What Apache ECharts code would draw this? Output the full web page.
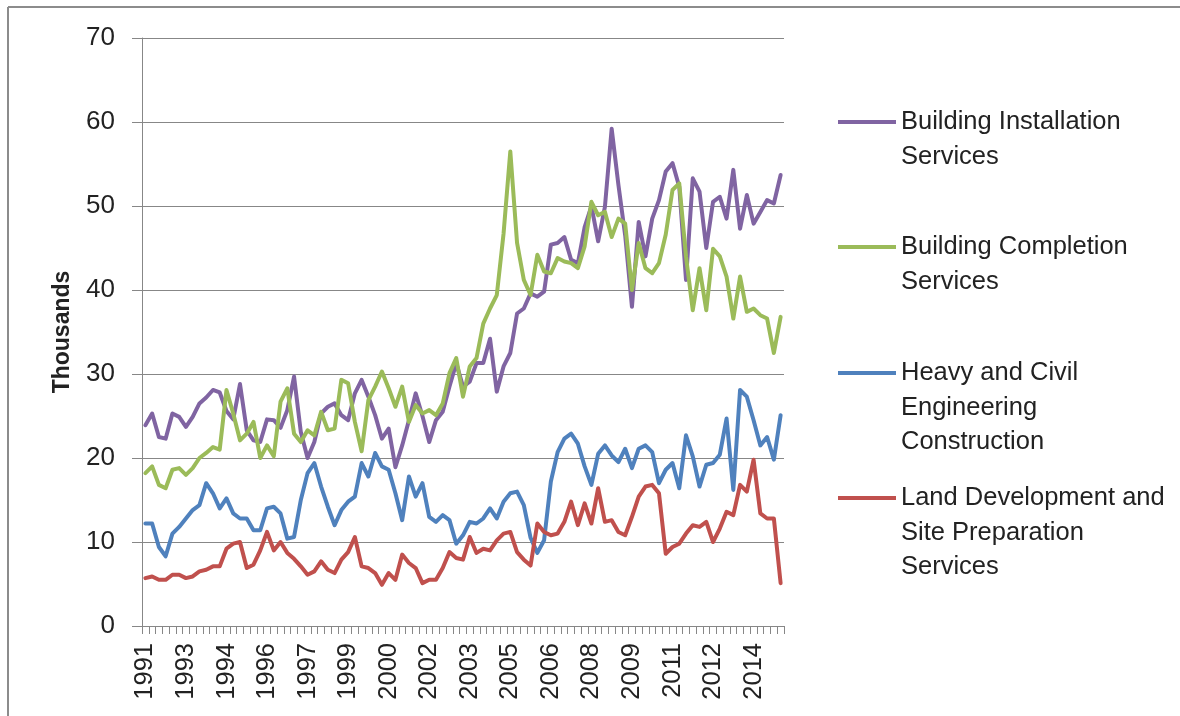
<!DOCTYPE html>
<html>
<head>
<meta charset="utf-8">
<script src="https://cdn.jsdelivr.net/npm/echarts@6/dist/echarts.min.js"></script>
<style>
html,body{margin:0;padding:0;background:#fff;}
#chart{width:1180px;height:716px;}
</style>
</head>
<body>
<div id="chart"></div>
<script>
// Quarterly categories (labels show the year every 6 quarters)
const categories = [
 '1991 Q4',
 '1992 Q1','1992 Q2','1992 Q3','1992 Q4',
 '1993 Q1','1993 Q2','1993 Q3','1993 Q4',
 '1994 Q1','1994 Q2','1994 Q3','1994 Q4',
 '1995 Q1','1995 Q2','1995 Q3','1995 Q4',
 '1996 Q1','1996 Q2','1996 Q3','1996 Q4',
 '1997 Q1','1997 Q2','1997 Q3','1997 Q4',
 '1998 Q1','1998 Q2','1998 Q3','1998 Q4',
 '1999 Q1','1999 Q2','1999 Q3','1999 Q4',
 '2000 Q1','2000 Q2','2000 Q3','2000 Q4',
 '2001 Q1','2001 Q2','2001 Q3','2001 Q4',
 '2002 Q1','2002 Q2','2002 Q3','2002 Q4',
 '2003 Q1','2003 Q2','2003 Q3','2003 Q4',
 '2004 Q1','2004 Q2','2004 Q3','2004 Q4',
 '2005 Q1','2005 Q2','2005 Q3','2005 Q4',
 '2006 Q1','2006 Q2','2006 Q3','2006 Q4',
 '2007 Q1','2007 Q2','2007 Q3','2007 Q4',
 '2008 Q1','2008 Q2','2008 Q3','2008 Q4',
 '2009 Q1','2009 Q2','2009 Q3','2009 Q4',
 '2010 Q1','2010 Q2','2010 Q3','2010 Q4',
 '2011 Q1','2011 Q2','2011 Q3','2011 Q4',
 '2012 Q1','2012 Q2','2012 Q3','2012 Q4',
 '2013 Q1','2013 Q2','2013 Q3','2013 Q4',
 '2014 Q1','2014 Q2','2014 Q3','2014 Q4',
 '2015 Q1','2015 Q2'
];

const buildingInstallation = [
 23.9,25.3,22.5,22.3,25.3,24.9,23.7,24.9,26.5,27.2,
 28.1,27.8,25.6,24.6,28.8,23.3,22.1,21.9,24.6,24.5,
 23.6,25.7,29.7,23.1,20.0,21.9,25.3,26.1,26.5,25.1,
 24.5,27.7,29.3,27.3,25.1,22.3,23.5,18.9,21.5,24.5,
 27.7,25.0,21.9,24.5,25.5,28.5,31.3,28.5,29.1,31.3,
 31.3,34.2,27.9,30.9,32.5,37.2,37.8,39.6,39.2,39.8,
 45.4,45.6,46.3,43.6,43.2,47.5,50.0,45.8,49.9,59.2,
 52.5,46.5,38.0,48.1,44.0,48.5,50.7,54.1,55.1,52.3,
 41.2,53.3,51.7,45.0,50.5,51.1,48.5,54.3,47.3,51.3,
 47.9,49.3,50.7,50.3,53.7
];
const buildingCompletion = [
 18.2,19.0,16.8,16.4,18.6,18.8,18.0,18.8,20.0,20.6,
 21.3,21.0,28.1,25.3,22.1,22.9,24.3,20.0,21.5,20.2,
 26.7,28.3,22.9,21.9,23.3,22.7,25.5,23.3,23.5,29.3,
 28.9,24.3,20.8,26.9,28.5,30.3,28.3,26.1,28.5,24.3,
 26.3,25.3,25.7,25.1,26.5,30.1,31.9,27.3,30.9,31.9,
 36.0,37.8,39.4,46.7,56.5,45.6,41.2,39.4,44.2,42.2,
 42.0,43.8,43.4,43.2,42.6,45.2,50.5,48.9,49.3,46.3,
 48.5,47.9,40.0,45.6,42.6,42.0,43.2,46.6,51.9,52.7,
 44.0,37.6,42.6,37.6,44.9,44.0,41.6,36.6,41.6,37.4,
 37.8,37.0,36.6,32.5,36.8
];
const heavyCivil = [
 12.2,12.2,9.4,8.3,11.0,11.8,12.8,13.8,14.4,17.0,
 15.8,14.0,15.2,13.4,12.8,12.8,11.4,11.4,14.0,14.2,
 13.4,10.4,10.6,15.0,18.2,19.4,16.6,14.2,12.0,13.8,
 14.8,15.4,19.4,17.8,20.6,19.0,18.6,15.8,12.6,17.8,
 15.4,17.0,13.0,12.4,13.2,12.6,9.8,10.8,12.4,12.2,
 12.8,14.0,12.8,14.8,15.8,16.0,14.4,10.5,8.7,10.2,
 17.2,20.7,22.3,22.9,21.7,19.0,16.8,20.5,21.5,20.3,
 19.5,21.1,18.8,21.1,21.5,20.7,17.0,18.6,19.4,16.4,
 22.7,20.2,16.6,19.2,19.4,20.4,24.7,16.2,28.1,27.3,
 24.5,21.5,22.5,19.8,25.1
];
const landDevelopment = [
 5.7,5.9,5.5,5.5,6.1,6.1,5.7,5.9,6.5,6.7,
 7.1,7.1,9.2,9.8,10.0,6.9,7.3,9.0,11.2,9.0,
 10.0,8.7,8.0,7.1,6.1,6.5,7.7,6.7,6.3,7.9,
 8.8,10.6,7.1,6.9,6.3,4.9,6.3,5.5,8.5,7.5,
 6.9,5.1,5.5,5.5,6.9,8.8,8.1,7.9,10.6,8.7,
 9.2,9.0,10.2,11.0,11.2,8.8,7.9,7.2,12.2,11.2,
 10.8,11.0,12.4,14.8,12.0,14.6,12.2,16.4,12.4,12.6,
 11.2,10.8,13.0,15.4,16.6,16.8,15.8,8.6,9.4,9.8,
 11.0,12.0,11.8,12.4,10.0,11.6,13.6,13.2,16.8,16.0,
 19.8,13.4,12.8,12.8,5.1
];

const seriesNames = [
 'Building Installation Services',
 'Building Completion Services',
 'Heavy and Civil Engineering Construction',
 'Land Development and Site Preparation Services'
];
const legendLabels = [
 ' \nBuilding Installation\nServices',
 ' \nBuilding Completion\nServices',
 ' \n \nHeavy and Civil\nEngineering\nConstruction',
 ' \n \nLand Development and\nSite Preparation\nServices'
];
const colors = ['#8064A2', '#9BBB59', '#4F81BD', '#C0504D'];
const seriesData = [buildingInstallation, buildingCompletion, heavyCivil, landDevelopment];
const legendTops = [70.25, 195.25, 286.75, 411.75];

const FONT = 'Liberation Sans, Arial, sans-serif';
const TEXT = '#222222';
const GRAY = '#878787';

const chart = echarts.init(document.getElementById('chart'), null, {renderer: 'canvas'});

const legends = seriesNames.map((name, i) => ({
  left: 838,
  top: legendTops[i],
  padding: 0,
  orient: 'vertical',
  itemWidth: 58,
  itemHeight: 4,
  icon: 'rect',
  data: [name],
  formatter: () => legendLabels[i],
  textStyle: {fontFamily: FONT, fontSize: 25.5, lineHeight: 34.5, color: TEXT}
}));

const option = {
  animation: false,
  backgroundColor: '#ffffff',
  grid: {left: 142, right: 396, top: 38, bottom: 90, outerBoundsMode: 'none'},
  legend: legends,
  xAxis: {
    type: 'category',
    data: categories,
    boundaryGap: true,
    axisLine: {show: true, lineStyle: {color: GRAY, width: 1}},
    axisTick: {show: true, interval: 0, length: 8, lineStyle: {color: GRAY}},
    axisLabel: {
      interval: 5,
      rotate: 90,
      margin: 17,
      formatter: v => v.slice(0, 4),
      fontFamily: FONT, fontSize: 25.5, color: TEXT
    },
    splitLine: {show: false}
  },
  yAxis: {
    type: 'value',
    min: 0, max: 70, interval: 10,
    name: 'Thousands',
    nameLocation: 'middle',
    nameRotate: 90,
    nameGap: 68,
    nameTextStyle: {fontFamily: FONT, fontSize: 23, fontWeight: 'bold', color: TEXT},
    axisLine: {show: true, lineStyle: {color: GRAY, width: 1}},
    axisTick: {show: true, length: 10, lineStyle: {color: GRAY}},
    axisLabel: {margin: 27, fontFamily: FONT, fontSize: 26, color: TEXT},
    splitLine: {show: true, lineStyle: {color: GRAY, width: 1}}
  },
  series: seriesNames.map((name, i) => ({
    name: name,
    type: 'line',
    data: seriesData[i],
    symbol: 'none',
    showSymbol: false,
    color: colors[i],
    itemStyle: {color: colors[i]},
    lineStyle: {color: colors[i], width: 4, cap: 'round', join: 'round'},
    emphasis: {disabled: true}
  })),
  graphic: [
    {type: 'line', shape: {x1: 8, y1: 7, x2: 1180, y2: 7}, style: {stroke: '#8c8c8c', lineWidth: 2}, silent: true},
    {type: 'line', shape: {x1: 8, y1: 7, x2: 8, y2: 716}, style: {stroke: '#8c8c8c', lineWidth: 2}, silent: true}
  ]
};
chart.setOption(option);
</script>
</body>
</html>
